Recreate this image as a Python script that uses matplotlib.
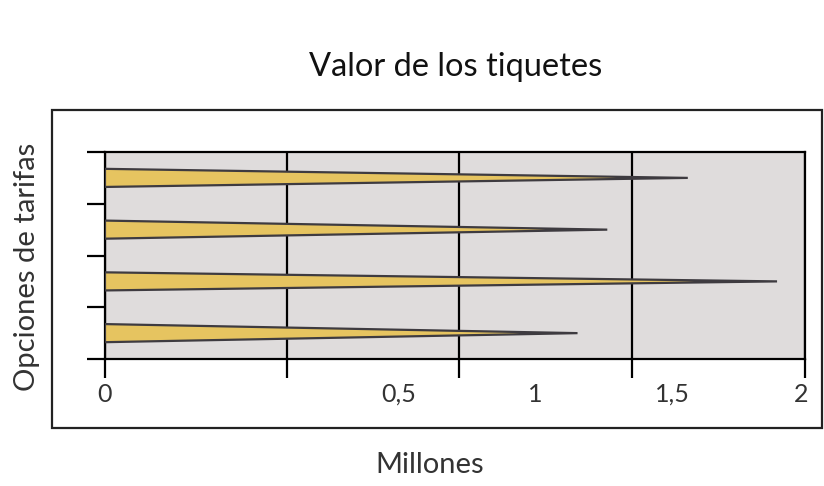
import matplotlib.pyplot as plt
from matplotlib.patches import Rectangle

plt.rcParams['font.family'] = ['Lato', 'DejaVu Sans']
plt.rcParams['xtick.labelsize'] = 18
plt.rcParams['xtick.labelcolor'] = "#333333"

# data, bottom to top
positions = [0.5, 1.5, 2.5, 3.5]
values = [1.35, 1.92, 1.435, 1.665]
bar_height = 0.35

# grid / tick positions and the (offset) label positions as drawn in the source
grid_x = [0, 0.52, 1.01, 1.507, 2]
label_x = [0, 0.84, 1.23, 1.62, 1.99]
label_text = ["0", "0,5", "1", "1,5", "2"]

fig = plt.figure(figsize=(8.24, 4.86), dpi=100)

# outer frame around the plot block
fig.patches.append(Rectangle((0.063, 0.119), 0.934, 0.655, transform=fig.transFigure,
                             fill=False, edgecolor="#222222", linewidth=1.6))

ax = fig.add_axes([0.1274, 0.2613, 0.8496, 0.4259])
ax.set_facecolor("#DFDCDC")

for y, v in zip(positions, values):
    xs = [0, v, 0]
    ys = [y - bar_height / 2, y, y + bar_height / 2]
    ax.fill(xs, ys, facecolor="#E6C460", edgecolor="#3E3B40", linewidth=1.6,
            joinstyle="miter", zorder=3)

ax.set_xlim(0, 2)
ax.set_ylim(0, 4)

ax.xaxis.remove_overlapping_locs = False
ax.set_xticks(grid_x)
ax.set_xticklabels([])
ax.set_xticks(label_x, minor=True)
ax.set_xticklabels(label_text, minor=True)
ax.tick_params(axis="x", which="major", length=14, width=1.6, direction="out", color="black")
ax.tick_params(axis="x", which="minor", length=0, pad=17)
ax.xaxis.grid(True, which="major", color="black", linewidth=1.6, zorder=1)
ax.set_axisbelow(True)

ax.set_yticks([0, 1, 2, 3, 4])
ax.set_yticklabels([])
ax.tick_params(axis="y", length=13, width=1.6, direction="out", color="black")

for s in ax.spines.values():
    s.set_linewidth(1.6)
    s.set_color("black")

fig.text(0.5535, 0.862, "Valor de los tiquetes", ha="center", va="center",
         fontsize=23.5, color="#111111")
fig.text(0.522, 0.043, "Millones", ha="center", va="center",
         fontsize=21, color="#333333")
fig.text(0.033, 0.45, "Opciones de tarifas", ha="center", va="center",
         rotation=90, fontsize=21, color="#333333")

fig.savefig("out.png", dpi=100, facecolor="white")
